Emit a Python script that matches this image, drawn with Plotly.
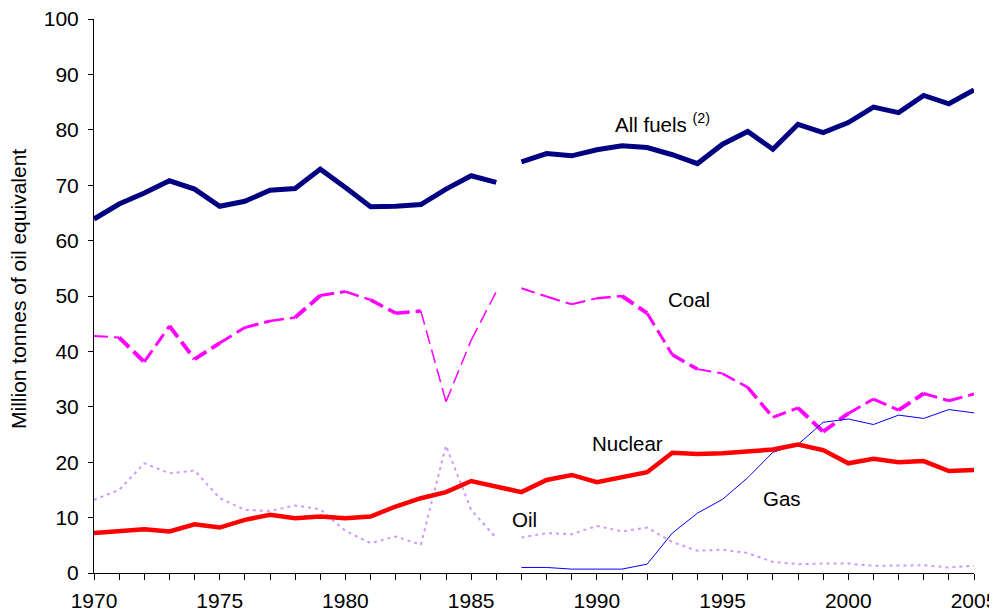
import plotly.graph_objects as go

years = list(range(1970, 2006))
all_fuels = [63.9, 66.6, 68.6, 70.8, 69.3, 66.2, 67.1, 69.1, 69.4, 72.9, 69.6, 66.1,
             66.2, 66.5, 69.3, 71.7, 70.5, 74.2, 75.7, 75.3, 76.4, 77.1, 76.8, 75.5,
             73.9, 77.4, 79.7, 76.5, 81.0, 79.5, 81.3, 84.1, 83.1, 86.2, 84.7, 87.2]
coal = [42.8, 42.5, 38.1, 44.6, 38.6, 41.5, 44.3, 45.5, 46.1, 50.1, 50.8, 49.3,
        46.9, 47.3, 30.9, 42.0, 50.8, 51.4, 49.9, 48.5, 49.6, 50.0, 46.9, 39.4,
        36.8, 36.0, 33.5, 28.1, 29.8, 25.5, 28.8, 31.4, 29.4, 32.4, 31.1, 32.3]
nuclear = [7.2, 7.5, 7.9, 7.5, 8.8, 8.2, 9.6, 10.5, 9.9, 10.2, 9.9, 10.2,
           12.0, 13.5, 14.6, 16.6, 15.6, 14.6, 16.8, 17.7, 16.4, 17.4, 18.2, 21.7,
           21.5, 21.6, 22.0, 22.3, 23.2, 22.2, 19.8, 20.6, 20.0, 20.2, 18.4, 18.6]
oil = [13.2, 15.0, 19.8, 18.0, 18.5, 13.5, 11.4, 11.2, 12.2, 11.5, 7.6, 5.4,
       6.6, 5.1, 23.0, 11.4, 6.3, 6.4, 7.2, 7.0, 8.5, 7.5, 8.2, 5.6,
       4.0, 4.2, 3.6, 2.0, 1.6, 1.7, 1.7, 1.3, 1.4, 1.4, 1.0, 1.3]
gas = [None] * 17 + [1.0, 1.0, 0.7, 0.7, 0.7, 1.6, 7.2, 10.8, 13.3, 17.2, 21.8,
                     23.2, 27.2, 27.8, 26.8, 28.5, 27.9, 29.5, 28.9]

break_year = 1986  # series break between 1986 and 1987

# per-segment line widths for coal (style only)
coal_widths = [2, 4, 3, 4, 4, 3, 3, 2.5, 4, 3, 2.5, 3.5, 3.5, 1.5, 1.5, 1.5, 1.5,
               2, 2, 2, 2.5, 4, 3, 3.5, 2, 2.5, 3.5, 3, 4, 4, 3, 3, 4, 3, 3]

FONT = "Liberation Sans, Arial, sans-serif"

fig = go.Figure()


def split(vals):
    k = years.index(break_year) + 1
    return (years[:k], vals[:k]), (years[k:], vals[k:])


# All fuels
for xs, ys in split(all_fuels):
    fig.add_trace(go.Scatter(x=xs, y=ys, mode="lines",
                             line=dict(color="#000080", width=5),
                             showlegend=False, hoverinfo="skip"))

# Coal, segment by segment
for i in range(len(years) - 1):
    if years[i] == break_year:
        continue
    fig.add_trace(go.Scatter(x=years[i:i + 2], y=coal[i:i + 2], mode="lines",
                             line=dict(color="#FF00FF", width=coal_widths[i],
                                       dash="14px,6px"),
                             showlegend=False, hoverinfo="skip"))

# Oil
for xs, ys in split(oil):
    fig.add_trace(go.Scatter(x=xs, y=ys, mode="lines",
                             line=dict(color="#CC99FF", width=2, dash="3px,4px"),
                             showlegend=False, hoverinfo="skip"))

# Gas
fig.add_trace(go.Scatter(x=years, y=gas, mode="lines",
                         line=dict(color="#0000FF", width=1),
                         showlegend=False, hoverinfo="skip"))

# Nuclear
fig.add_trace(go.Scatter(x=years, y=nuclear, mode="lines",
                         line=dict(color="#FF0000", width=4.5),
                         showlegend=False, hoverinfo="skip"))

labels = [
    ("All fuels <sup>(2)</sup>", 1992.6, 81.2),
    ("Coal", 1993.66, 49.3),
    ("Nuclear", 1991.22, 23.3),
    ("Oil", 1987.14, 9.6),
    ("Gas", 1997.35, 13.4),
]
for txt, lx, ly in labels:
    fig.add_annotation(x=lx, y=ly, text=txt, showarrow=False,
                       font=dict(family=FONT, size=20.5, color="black"))

# y-axis title
fig.add_annotation(xref="paper", yref="paper", x=-0.0864, y=0.5126,
                   text="Million tonnes of oil equivalent", textangle=-90,
                   showarrow=False, xanchor="center", yanchor="middle",
                   font=dict(family=FONT, size=21, color="black"))

fig.update_layout(
    width=989, height=604,
    margin=dict(l=86, r=23, t=11, b=39),
    paper_bgcolor="white", plot_bgcolor="white",
    font=dict(family=FONT, size=21, color="black"),
    xaxis=dict(range=[1970, 2005], tick0=1970, dtick=5, showgrid=False,
               zeroline=False, showline=True, linecolor="black", linewidth=1,
               ticks="outside", ticklen=6, tickcolor="black", automargin=False,
               minor=dict(dtick=1, ticks="outside", ticklen=6, tickcolor="black"),
               ticklabelstandoff=3, tickfont=dict(size=21),
               ticklabeloverflow="allow"),
    yaxis=dict(range=[0, 100], dtick=10, showgrid=False, zeroline=False,
               showline=True, linecolor="black", linewidth=1, automargin=False,
               ticks="outside", ticklen=5, tickcolor="black",
               ticklabelstandoff=5, tickfont=dict(size=21),
               ticklabeloverflow="allow"),
)

fig.write_html("out.html")
